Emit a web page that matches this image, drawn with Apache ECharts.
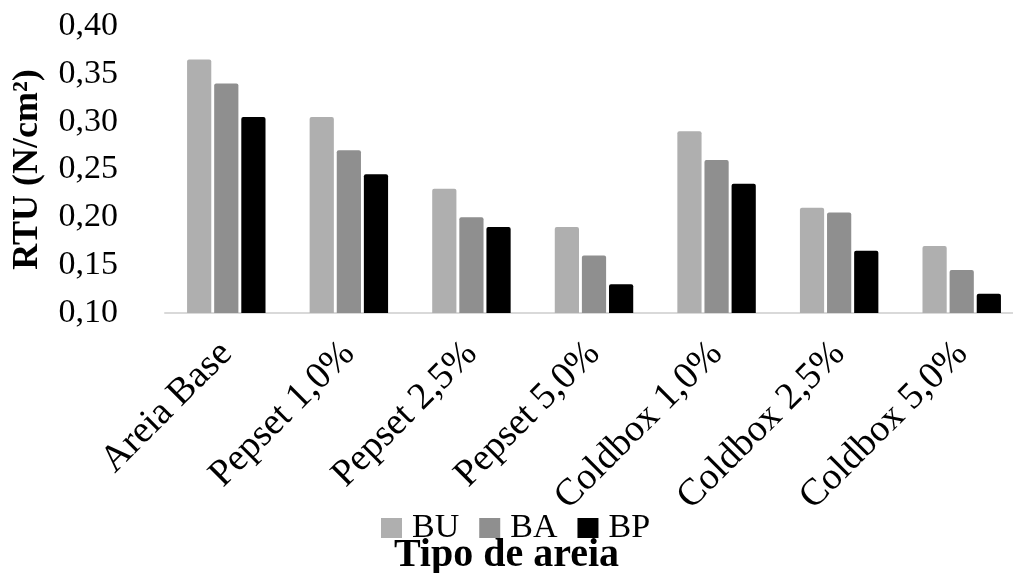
<!DOCTYPE html>
<html>
<head>
<meta charset="utf-8">
<script src="https://cdn.jsdelivr.net/npm/echarts@6/dist/echarts.min.js"></script>
<style>html,body{margin:0;padding:0;background:#fff}#c{width:1013px;height:573px}</style>
</head>
<body>
<div id="c"></div>
<script>
const categories = ['Areia Base', 'Pepset 1,0%', 'Pepset 2,5%', 'Pepset 5,0%', 'Coldbox 1,0%', 'Coldbox 2,5%', 'Coldbox 5,0%'];
const BU = [0.365, 0.305, 0.23, 0.19, 0.29, 0.21, 0.17];
const BA = [0.34, 0.27, 0.20, 0.16, 0.26, 0.205, 0.145];
const BP = [0.305, 0.245, 0.19, 0.13, 0.235, 0.165, 0.12];
const seriesNames = ['BU', 'BA', 'BP'];
const colors = ['#afafaf', '#8f8f8f', '#000000'];
const FONT = '"Liberation Serif", "Times New Roman", serif';

const chart = echarts.init(document.getElementById('c'));
const dataSets = [BU, BA, BP];
chart.setOption({
  animation: false,
  textStyle: { fontFamily: FONT, color: '#000' },
  grid: { left: 165, width: 858, top: 26, bottom: 260, outerBoundsMode: 'none', containLabel: false },
  legend: {
    data: seriesNames,
    top: 506,
    left: 376,
    itemWidth: 21,
    itemHeight: 20,
    itemGap: 20,
    icon: 'rect',
    textStyle: { fontFamily: FONT, fontSize: 34, color: '#000', padding: [0, 0, 0, 5] }
  },
  title: {
    text: 'Tipo de areia',
    left: 'center',
    top: 531,
    textStyle: { fontFamily: FONT, fontSize: 40, fontWeight: 'bold', color: '#000' }
  },
  xAxis: {
    type: 'category',
    data: categories,
    axisLine: { lineStyle: { color: '#d9d9d9', width: 2 } },
    axisTick: { show: false },
    axisLabel: { rotate: 45, margin: 35, fontFamily: FONT, fontSize: 38, color: '#000' }
  },
  yAxis: {
    type: 'value',
    min: 0.10,
    max: 0.40,
    interval: 0.05,
    name: 'RTU (N/cm²)',
    nameLocation: 'middle',
    nameGap: 119,
    nameTextStyle: { fontFamily: FONT, fontSize: 36, fontWeight: 'bold', color: '#000' },
    axisLine: { show: false },
    axisTick: { show: false },
    splitLine: { show: false },
    axisLabel: {
      margin: 47,
      fontFamily: FONT,
      fontSize: 34,
      color: '#000',
      formatter: v => v.toFixed(2).replace('.', ',')
    }
  },
  series: seriesNames.map((n, i) => ({
    name: n,
    type: 'bar',
    data: dataSets[i],
    barGap: '12%',
    barCategoryGap: '36%',
    itemStyle: { color: colors[i], borderRadius: [2, 2, 0, 0] }
  }))
});
</script>
</body>
</html>
